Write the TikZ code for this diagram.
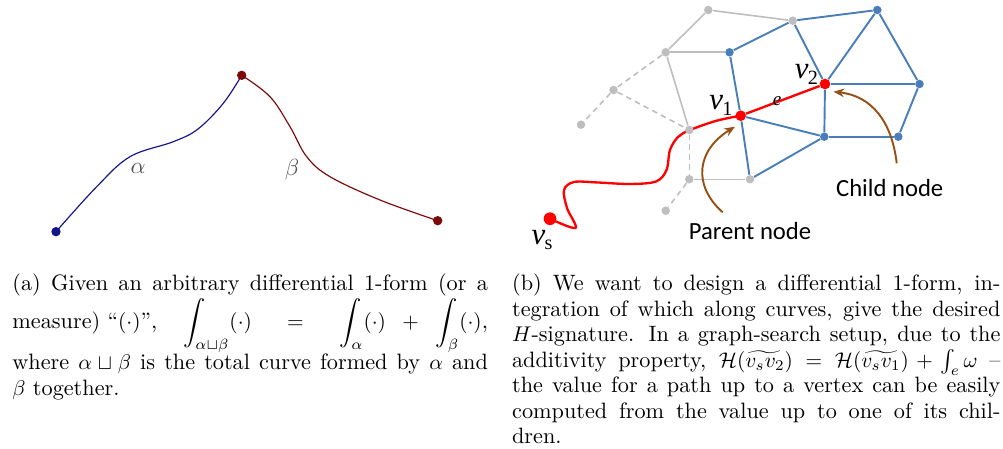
\documentclass[tikz,border=0pt]{standalone}
\usepackage{fontspec}
\usepackage{amssymb}
\newfontfamily\carlito{Carlito}
\newfontfamily\libserif{Liberation Serif}
\usetikzlibrary{arrows.meta}
\definecolor{ablue}{RGB}{20,20,140}
\definecolor{ared}{RGB}{125,10,10}
\definecolor{agray}{RGB}{85,85,85}
\definecolor{gblue}{RGB}{74,126,187}
\definecolor{ggray}{RGB}{190,190,190}
\definecolor{gred}{RGB}{255,0,0}
\definecolor{gbrown}{RGB}{150,80,20}
\newcommand{\vlab}[1]{{\libserif\fontsize{14.5}{14.5}\selectfont\itshape v}\kern-0.3pt\raisebox{-2.8pt}{\libserif\fontsize{9.5}{9.5}\selectfont #1}}
\pgfdeclarelayer{bg}
\pgfsetlayers{bg,main}
\tikzset{
  adot/.style={circle,fill=#1,inner sep=0pt,minimum size=4.4pt},
  gdot/.style={circle,fill=ggray,inner sep=0pt,minimum size=4pt},
  bdot/.style={circle,fill=gblue,inner sep=0pt,minimum size=4pt},
  rdot/.style={circle,fill=gred,inner sep=0pt,minimum size=5pt},
  gedge/.style={draw=ggray,line width=0.75pt},
  gdash/.style={draw=ggray,line width=0.75pt,dash pattern=on 2.6pt off 2pt},
  bedge/.style={draw=gblue,line width=0.9pt},
  redge/.style={draw=gred,line width=1.1pt},
  barrow/.style={draw=gbrown,line width=0.9pt,-{Stealth[length=5pt,width=4pt]}},
  acurve/.style={line width=0.55pt},
  sublab/.style={font=\fontsize{10.5}{12}\selectfont,text=agray,inner sep=0pt},
  vlabel/.style={inner sep=0pt},
  nodetxt/.style={font=\carlito\fontsize{11.6}{13}\selectfont,inner sep=0pt},
  capt/.style={inner sep=0pt,anchor=base west,font=\fontsize{10.45}{11.95}\selectfont}
}
\begin{document}
\begin{tikzpicture}[x=0.47pt,y=-0.47pt]
\useasboundingbox (0,0) rectangle (1003,449);
% ---------- (a) ----------
\node[adot=ablue] (a0) at (56,231.7) {};
\node[adot=ared] (a1) at (241.7,75.3) {};
\node[adot=ared] (a2) at (437.7,220.7) {};
\begin{pgfonlayer}{bg}
\draw[acurve,ablue] plot[smooth,tension=0.6] coordinates {(a0.center) (96.7,186.7) (130,156.7) (173.3,141.7) (198,129) (223.3,103.3) (a1.center)};
\draw[acurve,ared] plot[smooth,tension=0.6] coordinates {(a1.center) (270,96.7) (290,126.7) (306.7,156.7) (330,176.7) (380,200) (a2.center)};
\end{pgfonlayer}
\node[sublab] (alab) at (138,168) {$\alpha$};
\node[sublab] (blab) at (292,170) {$\beta$};
% ---------- (b) graph ----------
\node[gdot] (G1) at (708.3,10) {};
\node[gdot] (G2) at (792.7,20.7) {};
\node[gdot] (G3) at (665.7,52.3) {};
\node[gdot] (G4) at (613.5,90) {};
\node[gdot] (G5) at (581,124.7) {};
\node[gdot] (G6) at (689.3,130) {};
\node[gdot] (G7) at (689.3,179.3) {};
\node[gdot] (G8) at (665.7,210.7) {};
\node[gdot] (B6) at (750,179.3) {};
\node[bdot] (B1) at (729.5,52.3) {};
\node[bdot] (B2) at (877.3,10) {};
\node[bdot] (B3) at (919.5,84) {};
\node[bdot] (B4) at (898.3,136.7) {};
\node[bdot] (B5) at (824.3,136.7) {};
\node[rdot] (v1) at (740.7,115.7) {};
\node[rdot] (v2) at (825,84) {};
\node[rdot,minimum size=6pt] (vs) at (550,218.7) {};
% gray edges
\draw[gedge] (G1) -- (G3);
\draw[gedge] (G1) -- (G2);
\draw[gedge] (G3) -- (B1);
\draw[gedge] (G3) -- (G6);
\draw[gedge] (G7) -- (B6);
\draw[gdash] (G3) -- (G4);
\draw[gdash] (G4) -- (G5);
\draw[gdash] (G4) -- (G6);
\draw[gdash] (G6) -- (G7);
\draw[gdash] (G7) -- (G8);
% blue edges
\draw[bedge] (B1) -- (G2);
\draw[bedge] (G2) -- (B2);
\draw[bedge] (G2) -- (v2);
\draw[bedge] (B2) -- (v2);
\draw[bedge] (B2) -- (B3);
\draw[bedge] (v2) -- (B3);
\draw[bedge] (B3) -- (B4);
\draw[bedge] (B4) -- (B5);
\draw[bedge] (v2) -- (B5);
\draw[bedge] (B5) -- (v1);
\draw[bedge] (v1) -- (B1);
\draw[bedge] (v1) -- (B6);
\draw[bedge] (B6) -- (B5);
% red edge and path
\draw[redge] (v1) -- (v2);
\begin{pgfonlayer}{bg}
\draw[redge] plot[smooth,tension=0.55] coordinates {(vs.center) (575.5,228) (567,208) (564,190) (574,182) (598,182.5) (630,184) (656,181.5) (666.5,170) (670,150) (678,137) (690,130) (716.7,120.7) (v1.center)};
\end{pgfonlayer}
% brown arrows
\coordinate (pa0) at (722.7,212.3);
\coordinate (pa1) at (735,126.7);
\coordinate (ca0) at (896.7,163.3);
\coordinate (ca1) at (833.5,91.7);
\draw[barrow] (pa0) .. controls (692,185) and (697,150) .. (pa1);
\draw[barrow] (ca0) .. controls (892,122) and (872,96) .. (ca1);
% labels
\node[vlabel] (l1) at (721,105) {\vlab{1}};
\node[vlabel] (l2) at (806.5,74.5) {\vlab{2}};
\node[vlabel] (ls) at (542,240) {\vlab{s}};
\node[inner sep=0pt,font=\libserif\itshape\fontsize{9}{9}\selectfont] (le) at (777,101) {e};
\node[nodetxt] (child) at (889.7,188.5) {Child node};
\node[nodetxt] (parent) at (750,231) {Parent node};
% ---------- captions ----------
\node[capt] (capa) at (12,291) {\parbox[t]{223.5pt}{(a) Given an arbitrary differential 1-form (or a\linebreak \mbox{measure) ``$(\cdot)$'',} $\displaystyle\int_{\alpha\sqcup\beta}(\cdot) = \int_\alpha(\cdot) + \int_\beta(\cdot)$,\linebreak where $\alpha\sqcup\beta$ is the total curve formed by $\alpha$ and\linebreak $\beta$ together.}};
\node[capt] (capb) at (511.7,291) {\parbox[t]{229.5pt}{(b) We want to design a differential 1-form, in-\linebreak tegration of which along curves, give the desired\linebreak $H$-signature. In a graph-search setup, due to the\linebreak additivity property, $\mathcal{H}(\widetilde{v_sv_2}) = \mathcal{H}(\widetilde{v_sv_1}) + \int_e\omega$ --\linebreak the value for a path up to a vertex can be easily\linebreak computed from the value up to one of its chil-\linebreak dren.}};
\end{tikzpicture}
\end{document}
